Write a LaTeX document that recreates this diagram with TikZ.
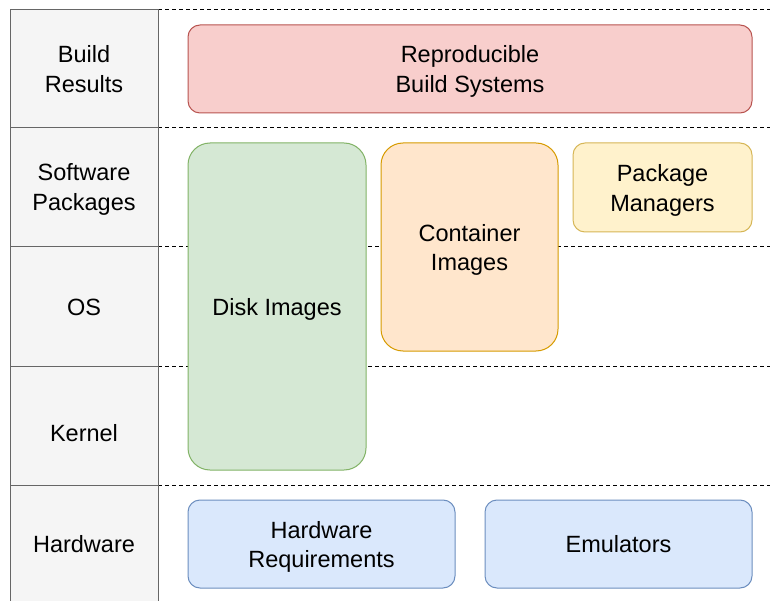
\documentclass[tikz,border=0pt]{standalone}
\usepackage{fontspec}
\setmainfont{Liberation Sans}
\begin{document}
\begin{tikzpicture}[x=1pt,y=-1pt,
  every node/.style={font=\fontsize{23.5}{29.5}\selectfont, align=center, text=black, yshift=-2.5pt},
  lane/.style={draw=lanegray, fill=lanefill, line width=1pt},
  sep/.style={draw=black, line width=1pt, dash pattern=on 4pt off 3pt},
  blk/.style={line width=1pt, inner sep=0pt},
  big/.style={rounded corners=22pt},
  small/.style={rounded corners=12pt}]
\definecolor{lanegray}{HTML}{666666}
\definecolor{lanefill}{HTML}{F5F5F5}
\definecolor{redF}{HTML}{F8CECC}\definecolor{redD}{HTML}{B85450}
\definecolor{grnF}{HTML}{D5E8D4}\definecolor{grnD}{HTML}{82B366}
\definecolor{orgF}{HTML}{FFE6CC}\definecolor{orgD}{HTML}{D79B00}
\definecolor{ylwF}{HTML}{FFF2CC}\definecolor{ylwD}{HTML}{D6B656}
\definecolor{bluF}{HTML}{DAE8FC}\definecolor{bluD}{HTML}{6C8EBF}
\clip (0,0) rectangle (770,601);
\fill[white] (0,0) rectangle (770,601);

% row separators
\draw[sep] (158,10) -- (770,10);
\draw[sep] (158,128) -- (770,128);
\draw[sep] (158,247) -- (770,247);
\draw[sep] (158,366) -- (770,366);
\draw[sep] (158,485) -- (770,485);

% lane headers
\draw[lane] (10,10) rectangle (158,128);
\draw[lane] (10,128) rectangle (158,247);
\draw[lane] (10,247) rectangle (158,366);
\draw[lane] (10,366) rectangle (158,485);
\draw[lane] (10,485) rectangle (158,620);
\node (hres) at (84,66.5) {Build\\Results};
\node (hsw) at (84,187) {Software\\Packages};
\node (hos) at (84,304.5) {OS};
\node (hker) at (84,431) {Kernel};
\node (hhw) at (84,542) {Hardware};

% blocks
\draw[blk,big,fill=grnF,draw=grnD] (188,143) rectangle (366,470);
\node (disk) at (277,306.5) {Disk Images};
\draw[blk,big,fill=orgF,draw=orgD] (381,143) rectangle (558,351);
\node (cont) at (469.5,247.5) {Container\\Images};
\draw[blk,small,fill=ylwF,draw=ylwD] (573,143) rectangle (752,232);
\node (pkg) at (662.5,188) {Package\\Managers};
\draw[blk,small,fill=redF,draw=redD] (188,25) rectangle (752,113);
\node (repro) at (470,69) {Reproducible\\Build Systems};
\draw[blk,small,fill=bluF,draw=bluD] (188,500) rectangle (455,588);
\node (hwreq) at (321.5,544.5) {Hardware\\Requirements};
\draw[blk,small,fill=bluF,draw=bluD] (485,500) rectangle (752,588);
\node (emu) at (618.5,542) {Emulators};
\end{tikzpicture}
\end{document}
